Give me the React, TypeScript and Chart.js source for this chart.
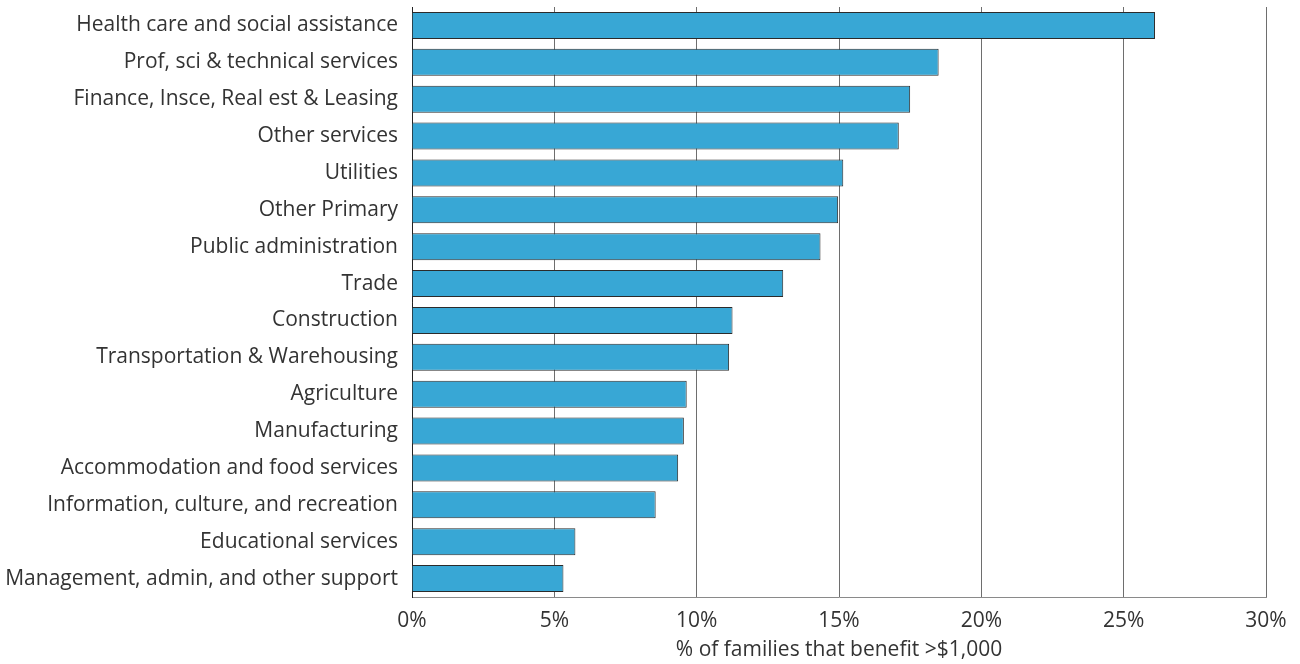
import React, { useEffect, useRef } from "react";
import { Chart, registerables } from "chart.js";

Chart.register(...registerables);

const categories: string[] = [
  "Health care and social assistance",
  "Prof, sci & technical services",
  "Finance, Insce, Real est & Leasing",
  "Other services",
  "Utilities",
  "Other Primary",
  "Public administration",
  "Trade",
  "Construction",
  "Transportation & Warehousing",
  "Agriculture",
  "Manufacturing",
  "Accommodation and food services",
  "Information, culture, and recreation",
  "Educational services",
  "Management, admin, and other support",
];

const shareValues: number[] = [
  26.1, 18.5, 17.5, 17.1, 15.15, 14.97, 14.35, 13.04, 11.26, 11.14, 9.65, 9.55,
  9.35, 8.56, 5.74, 5.32,
];

const xTickValues: number[] = [0, 5, 10, 15, 20, 25, 30];
const xAxisTitle = "% of families that benefit >$1,000";

const FONT = "'Open Sans', 'Noto Sans', sans-serif";
const TEXT = "#333333";

export default function App() {
  const ref = useRef<HTMLCanvasElement | null>(null);

  useEffect(() => {
    if (!ref.current) return;
    const chart = new Chart(ref.current, {
      type: "bar",
      data: {
        labels: categories,
        datasets: [
          {
            data: shareValues,
            backgroundColor: "#38a7d5",
            borderColor: "#2b2b2b",
            borderWidth: 1,
            barPercentage: 0.73,
            categoryPercentage: 1,
          },
        ],
      },
      options: {
        indexAxis: "y",
        animation: false,
        responsive: false,
        maintainAspectRatio: false,
        layout: { padding: { top: 7, right: 34, bottom: 0, left: 0 } },
        plugins: { legend: { display: false }, tooltip: { enabled: false } },
        scales: {
          x: {
            type: "linear",
            min: 0,
            max: 30,
            afterBuildTicks: (axis: any) => {
              axis.ticks = xTickValues.map((v) => ({ value: v }));
            },
            afterFit: (axis: any) => {
              axis.height = 67;
              axis.paddingLeft = 0;
              axis.paddingRight = 0;
            },
            ticks: {
              color: TEXT,
              font: { family: FONT, size: 21 },
              padding: 11,
              callback: (v: any) => v + "%",
            },
            grid: { color: "#6e6e6e", lineWidth: 1, drawTicks: false },
            border: { color: "#8a8a8a", width: 1 },
            title: {
              display: true,
              text: xAxisTitle,
              color: TEXT,
              font: { family: FONT, size: 21 },
              padding: { top: 2, bottom: 1 },
            },
          },
          y: {
            type: "category",
            afterFit: (axis: any) => {
              axis.width = 412;
              axis.paddingTop = 0;
              axis.paddingBottom = 0;
            },
            ticks: {
              color: TEXT,
              font: { family: FONT, size: 21 },
              padding: 14,
            },
            grid: { display: false, drawTicks: false },
            border: { color: "#222222", width: 1 },
          },
        },
      },
    });
    return () => chart.destroy();
  }, []);

  return (
    <div style={{ position: "fixed", left: 0, top: 0, width: 1300, height: 664, background: "#fff" }}>
      <canvas ref={ref} width={1300} height={664} />
    </div>
  );
}
